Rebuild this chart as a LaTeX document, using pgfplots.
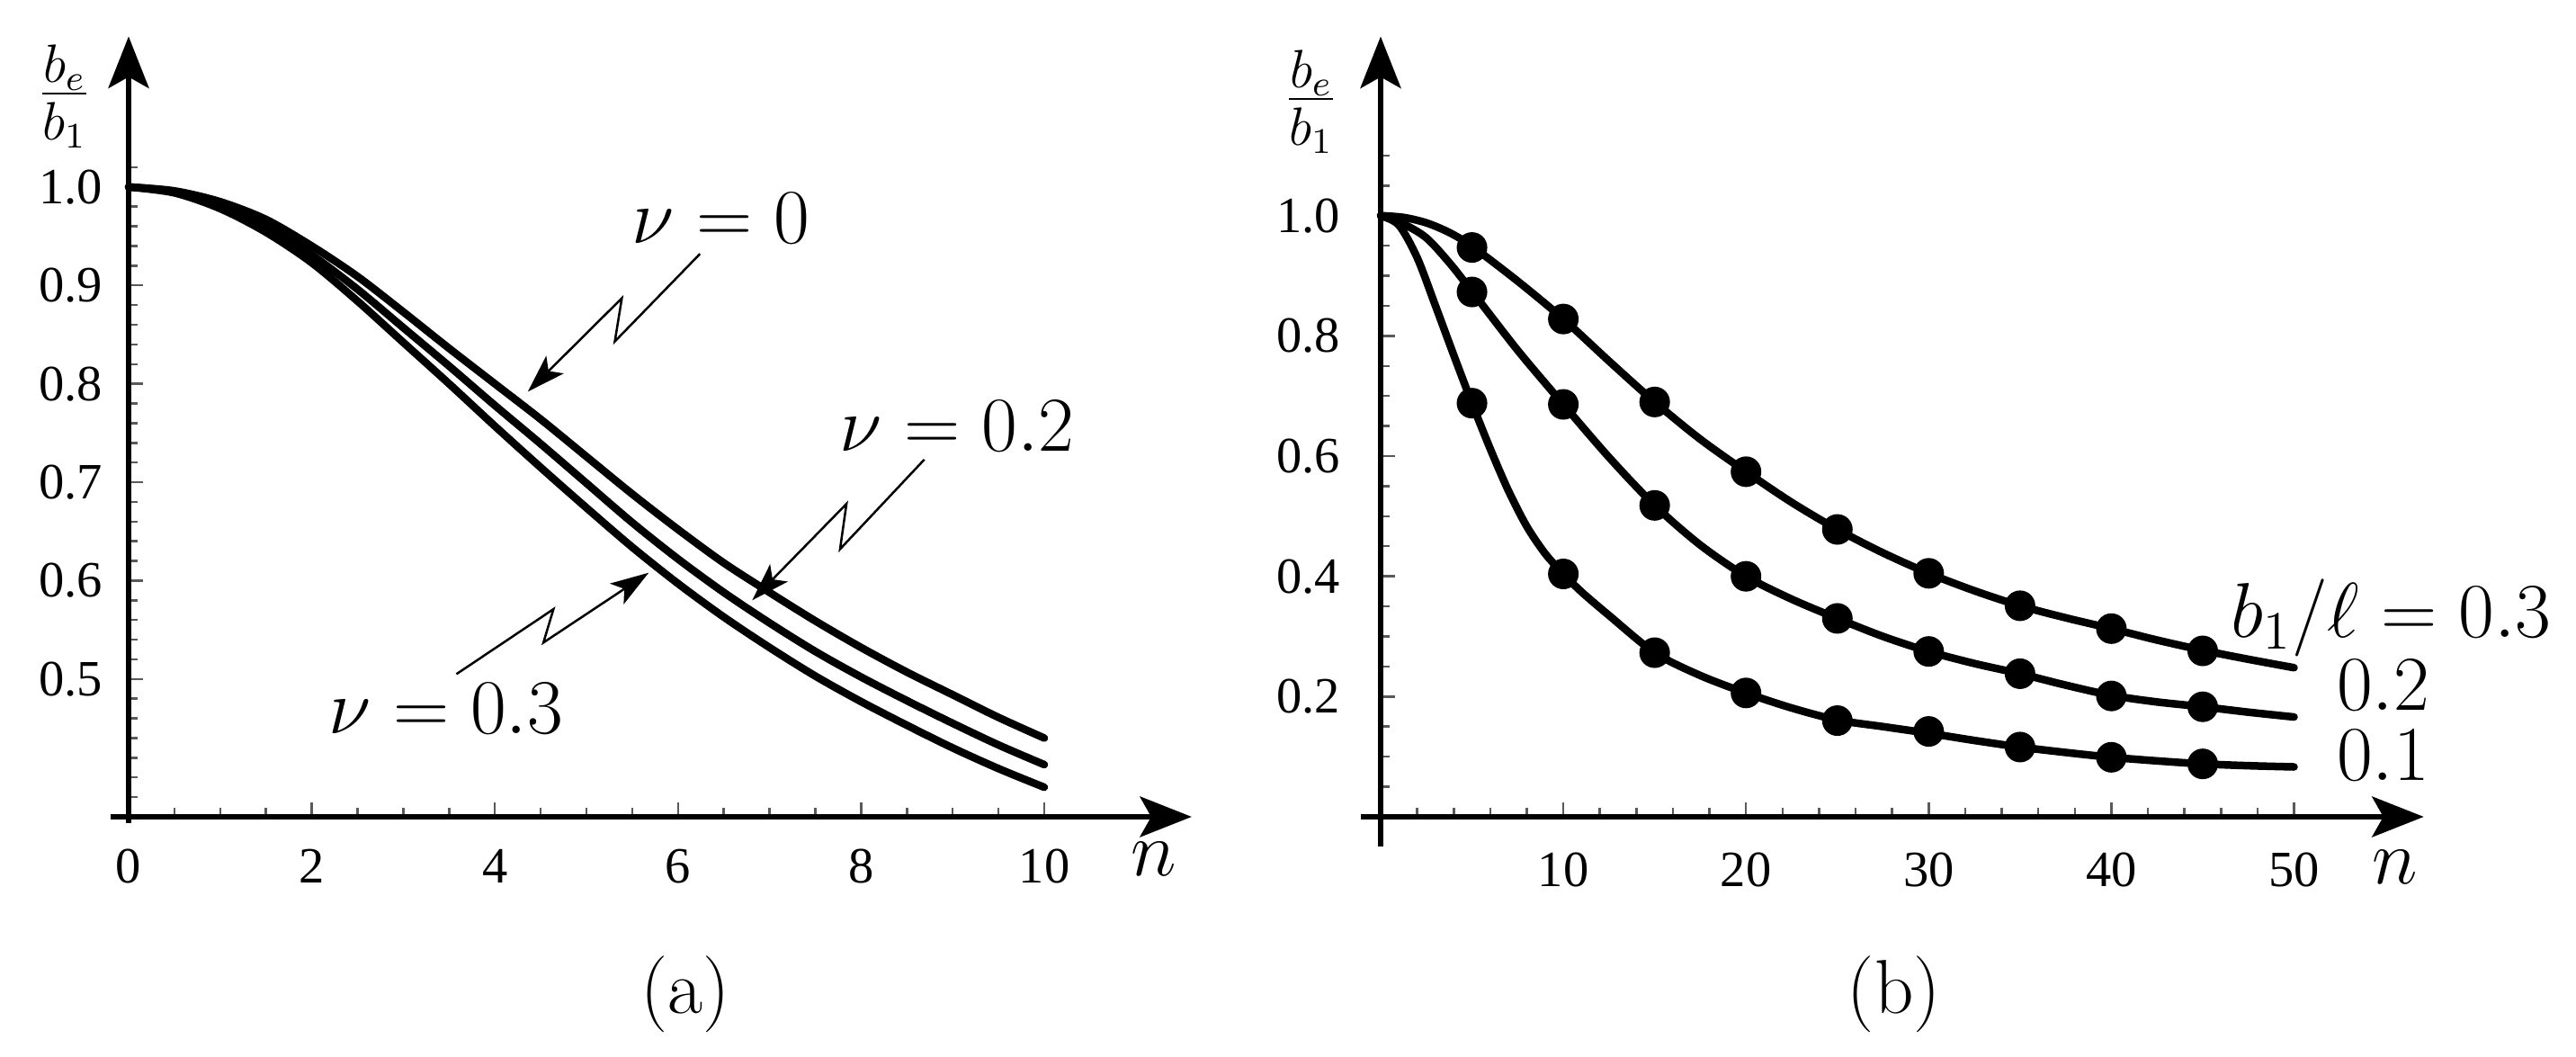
\documentclass[border=0pt]{standalone}
\usepackage{pgfplots}
\pgfplotsset{compat=1.18}
\usepackage{fontspec}
\newfontfamily\tickfont{Liberation Serif}
\usetikzlibrary{arrows.meta}

\pgfplotsset{
  panel/.style={
    anchor=south west, enlargelimits=false, clip=false,
    axis x line=bottom, axis y line=left,
    axis line style={draw=none},
    tick align=inside,
    major tick length=3.2pt, minor tick length=2pt,
    tick style={draw=gray!70!black, line width=0.5pt},
    ticklabel style={font=\tickfont\fontsize{11.3}{13}\selectfont},
  },
}
\tikzset{
  bigfont/.style={font=\fontsize{17}{20}\selectfont},
  axarrow/.style={line width=1.2pt, -{Stealth[length=11.5pt,width=9pt,inset=2.5pt]}},
  zz/.style={line width=0.5pt, -{Stealth[length=8.5pt,width=5.5pt,inset=2pt]}},
}

\begin{document}
\begin{tikzpicture}
\useasboundingbox (0,0) rectangle (572.8pt,235pt);

% ---------------- panel (a) ----------------
\begin{axis}[panel,
  at={(28.6pt,53.4pt)},
  x=20.36pt, y=218.8pt,
  xmin=0, xmax=11.61, ymin=0.36, ymax=1.153,
  xtick={0,2,4,6,8,10}, xticklabels={0,2,4,6,8,10},
  minor xtick={0.5,1,1.5,2.5,3,3.5,4.5,5,5.5,6.5,7,7.5,8.5,9,9.5},
  ytick={0.5,0.6,0.7,0.8,0.9,1.0}, yticklabels={0.5,0.6,0.7,0.8,0.9,1.0},
  minor ytick={0.38,0.40,0.42,0.44,0.46,0.48,0.52,0.54,0.56,0.58,0.62,0.64,0.66,0.68,0.72,0.74,0.76,0.78,0.82,0.84,0.86,0.88,0.92,0.94,0.96,0.98,1.02},
  yticklabel style={xshift=-2.3pt},
  xticklabel style={yshift=-3.7pt},
]
\draw[axarrow] (axis cs:-0.2,0.36) -- (axis cs:11.61,0.36);
\draw[axarrow] (axis cs:0,0.354) -- (axis cs:0,1.153);

% nu = 0
\addplot[black, line width=1.7pt, smooth, line cap=round] table {
0 1.000
0.5 0.996
1 0.985
1.5 0.967
2 0.940
2.5 0.909
3 0.873
3.5 0.836
4 0.800
4.5 0.764
5 0.726
5.5 0.688
6 0.652
6.5 0.618
7 0.588
7.5 0.559
8 0.532
8.5 0.507
9 0.484
9.5 0.461
10 0.440
};
% nu = 0.2
\addplot[black, line width=1.7pt, smooth, line cap=round] table {
0 1.000
0.5 0.995
1 0.981
1.5 0.960
2 0.931
2.5 0.896
3 0.857
3.5 0.818
4 0.778
4.5 0.739
5 0.699
5.5 0.659
6 0.622
6.5 0.588
7 0.557
7.5 0.528
8 0.502
8.5 0.478
9 0.455
9.5 0.433
10 0.413
};
% nu = 0.3
\addplot[black, line width=1.7pt, smooth, line cap=round] table {
0 1.000
0.5 0.994
1 0.978
1.5 0.954
2 0.923
2.5 0.884
3 0.842
3.5 0.800
4 0.757
4.5 0.715
5 0.674
5.5 0.634
6 0.597
6.5 0.563
7 0.532
7.5 0.503
8 0.477
8.5 0.453
9 0.430
9.5 0.409
10 0.390
};

\draw[zz] (axis cs:6.24,0.932) -- (axis cs:5.31,0.843) -- (axis cs:5.387,0.887) -- (axis cs:4.36,0.792);
\draw[zz] (axis cs:8.69,0.723) -- (axis cs:7.77,0.632) -- (axis cs:7.84,0.678) -- (axis cs:6.81,0.580);
\draw[zz] (axis cs:3.58,0.505) -- (axis cs:4.64,0.571) -- (axis cs:4.53,0.537) -- (axis cs:5.68,0.608);

\node[bigfont, anchor=base west, inner sep=0] at (axis cs:5.49,0.943) {$\nu = 0$};
\node[bigfont, anchor=base west, inner sep=0] at (axis cs:7.76,0.732) {$\nu = 0.2$};
\node[bigfont, anchor=base west, inner sep=0] at (axis cs:2.18,0.4446) {$\nu = 0.3$};
\node[bigfont, inner sep=0] at (axis cs:-0.70,1.092) {$\frac{b_e}{b_1}$};
\node[bigfont, inner sep=0] at (axis cs:11.2,0.317) {$n$};
\node[bigfont, inner sep=0] at (axis cs:6.08,0.180) {(a)};
\end{axis}

% ---------------- panel (b) ----------------
\begin{axis}[panel,
  at={(307pt,53.4pt)},
  x=4.062pt, y=133.66pt,
  xmin=0, xmax=57.1, ymin=0, ymax=1.298,
  xtick={10,20,30,40,50}, xticklabels={10,20,30,40,50},
  minor xtick={2,4,6,8,12,14,16,18,22,24,26,28,32,34,36,38,42,44,46,48},
  ytick={0.2,0.4,0.6,0.8,1.0}, yticklabels={0.2,0.4,0.6,0.8,1.0},
  minor ytick={0.05,0.1,0.15,0.25,0.3,0.35,0.45,0.5,0.55,0.65,0.7,0.75,0.85,0.9,0.95,1.05,1.1},
  yticklabel style={xshift=-5.5pt},
  xticklabel style={yshift=-4.5pt},
]
\draw[axarrow] (axis cs:-1.06,0) -- (axis cs:57.1,0);
\draw[axarrow] (axis cs:0,-0.05) -- (axis cs:0,1.298);

% b1/l = 0.3
\addplot[black, line width=1.7pt, smooth, line cap=round] table {
0 1.000
1.25 0.997
2.5 0.988
3.75 0.972
5 0.949
7.5 0.891
10 0.828
12.5 0.758
15 0.690
17.5 0.628
20 0.574
22.5 0.523
25 0.478
27.5 0.439
30 0.405
32.5 0.376
35 0.351
37.5 0.331
40 0.313
42.5 0.294
45 0.277
47.5 0.262
50 0.248
};
\addplot[only marks, mark=*, mark size=3.2pt, black] table {
5 0.947
10 0.828
15 0.690
20 0.574
25 0.478
30 0.405
35 0.351
40 0.313
45 0.276
};
% b1/l = 0.2
\addplot[black, line width=1.7pt, smooth, line cap=round] table {
0 1.000
1.25 0.986
2.5 0.963
3.75 0.922
5 0.874
7.5 0.776
10 0.686
12.5 0.598
15 0.518
17.5 0.452
20 0.400
22.5 0.362
25 0.330
27.5 0.300
30 0.275
32.5 0.255
35 0.238
37.5 0.219
40 0.202
42.5 0.191
45 0.183
47.5 0.174
50 0.166
};
\addplot[only marks, mark=*, mark size=3.2pt, black] table {
5 0.873
10 0.686
15 0.518
20 0.400
25 0.330
30 0.275
35 0.238
40 0.201
45 0.183
};
% b1/l = 0.1
\addplot[black, line width=1.7pt, smooth, line cap=round] table {
0 1.000
1 0.984
2 0.930
3 0.850
4 0.768
5 0.688
6 0.612
7 0.542
8 0.483
9 0.438
10 0.404
11 0.374
12.5 0.335
15 0.273
17.5 0.235
20 0.206
22.5 0.181
25 0.161
27.5 0.150
30 0.139
32.5 0.127
35 0.116
37.5 0.107
40 0.099
42.5 0.093
45 0.088
47.5 0.085
50 0.083
};
\addplot[only marks, mark=*, mark size=3.2pt, black] table {
5 0.688
10 0.404
15 0.273
20 0.206
25 0.160
30 0.142
35 0.116
40 0.099
45 0.088
};

\node[bigfont, anchor=base west, inner sep=0] at (axis cs:46.5,0.299) {$b_1/\ell = 0.3$};
\node[bigfont, anchor=base west, inner sep=0] at (axis cs:52.3,0.177) {$0.2$};
\node[bigfont, anchor=base west, inner sep=0] at (axis cs:52.3,0.060) {$0.1$};
\node[bigfont, inner sep=0] at (axis cs:-3.8,1.189) {$\frac{b_e}{b_1}$};
\node[bigfont, inner sep=0] at (axis cs:55.5,-0.084) {$n$};
\node[bigfont, inner sep=0] at (axis cs:28.1,-0.295) {(b)};
\end{axis}
\end{tikzpicture}
\end{document}
